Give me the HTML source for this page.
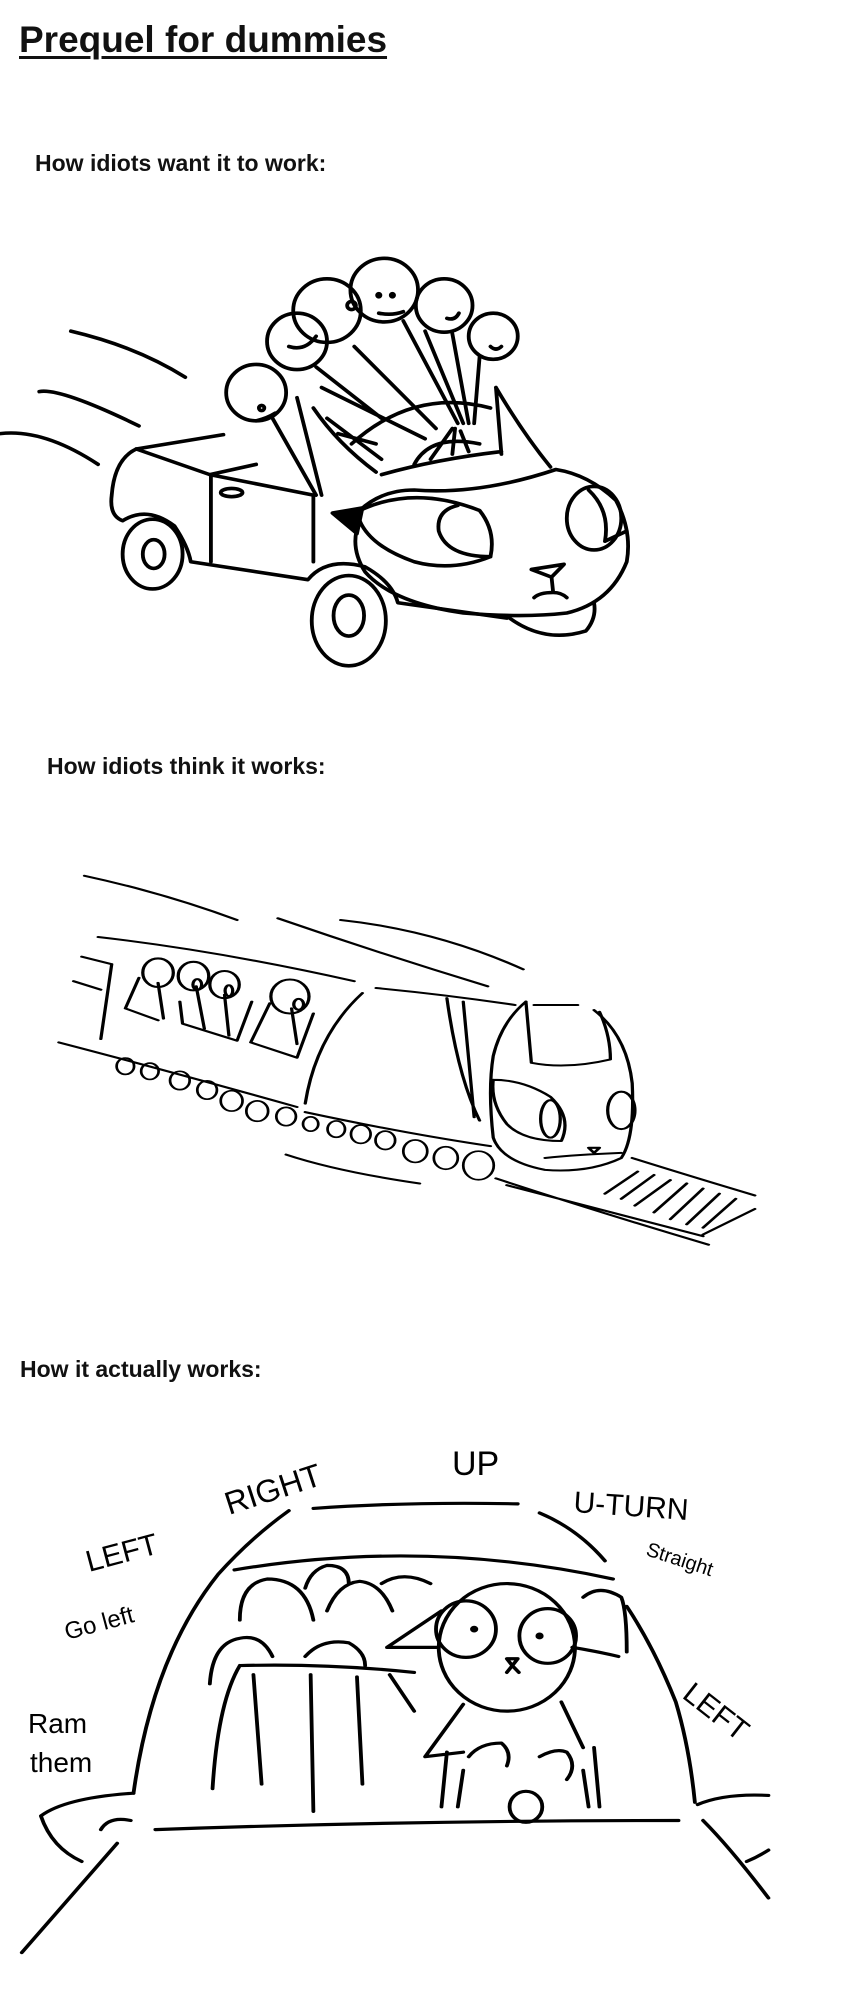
<!DOCTYPE html>
<html><head><meta charset="utf-8"><style>
html,body{margin:0;padding:0;background:#fff;width:848px;height:2000px;overflow:hidden;position:relative;font-family:"Liberation Sans",Arial,sans-serif}
.t{position:absolute;font-weight:bold;color:#111;white-space:nowrap}
svg{position:absolute;left:0;top:0}
</style></head><body>
<div class="t" style="left:19px;top:19px;font-size:37px;text-decoration:underline;text-decoration-thickness:3px;text-underline-offset:4px">Prequel for dummies</div>
<div class="t" style="left:35px;top:150px;font-size:23px">How idiots want it to work:</div>
<div class="t" style="left:47px;top:753px;font-size:23px">How idiots think it works:</div>
<div class="t" style="left:20px;top:1356px;font-size:23px">How it actually works:</div>
<svg width="848" height="2000" viewBox="0 0 848 2000" fill="none" stroke="#000" stroke-linecap="round" stroke-linejoin="round">
<!-- Panel 1 car -->
<g transform="matrix(0.545,0,0,0.5125,0,-2)" stroke-width="7">
<path d="M130,650 Q250,680 340,740 M72,768 Q110,760 255,835 M0,850 Q80,840 180,910"/>
<path d="M410,852 L250,880 Q210,900 205,970 Q200,1010 225,1020 Q270,990 320,1030 Q345,1070 350,1100 L565,1135 Q600,1090 670,1110 Q720,1140 730,1180 L930,1210"/>
<path d="M250,880 L385,930 L575,970 M387,930 L387,1100 M575,970 L575,1100 M385,930 L470,910"/>
<ellipse cx="425" cy="965" rx="20" ry="8"/>
<ellipse cx="280" cy="1085" rx="55" ry="68"/><ellipse cx="282" cy="1085" rx="20" ry="28"/>
<ellipse cx="640" cy="1215" rx="68" ry="88"/><ellipse cx="640" cy="1205" rx="28" ry="40"/>
<path d="M660,1000 Q700,960 760,960 Q880,970 1020,920 Q1080,930 1130,980 Q1160,1040 1150,1100 Q1120,1180 1040,1200 Q960,1210 850,1200 Q720,1180 670,1120 Q640,1070 660,1020"/>
<path d="M575,800 Q620,870 690,925 M910,760 L920,890 M910,760 Q960,850 1010,915 M700,930 Q800,900 920,885"/>
<path d="M660,1000 Q760,950 880,1000 Q910,1040 900,1090 Q830,1120 760,1100 Q680,1070 660,1020"/>
<path d="M900,1090 Q820,1090 805,1040 Q800,1000 840,990"/>
<ellipse cx="1090" cy="1015" rx="50" ry="62"/><path d="M1080,960 Q1120,1000 1110,1060 L1150,1040"/>
<path d="M610,1005 L665,995 L655,1045 Z" fill="#000"/>
<path d="M975,1115 L1035,1105 L1012,1130 Z M1012,1130 L1015,1160 Q990,1160 980,1170 M1015,1160 Q1030,1160 1040,1170"/>
<path d="M935,1210 Q1000,1260 1075,1235 Q1095,1210 1090,1180"/>
<path d="M645,870 Q760,760 900,800 M760,910 Q790,850 880,870 M790,900 L830,840 M830,890 L835,840 M860,885 L845,845"/>
<circle cx="470" cy="770" r="55"/><circle cx="545" cy="670" r="55"/><circle cx="600" cy="610" r="62"/><circle cx="705" cy="570" r="62"/><circle cx="815" cy="600" r="52"/><circle cx="905" cy="660" r="45"/>
<path d="M500,820 L580,970 M545,780 L590,970 M580,720 L700,820 M590,760 L780,860 M650,680 L800,840 M740,630 L840,830 M780,650 L850,830 M830,655 L860,830 M880,700 L870,830 M600,820 L700,900 M620,850 L690,870"/>
<path d="M470,825 Q490,820 505,810 M530,680 Q560,690 580,660 M695,615 Q720,620 740,612 M820,625 Q835,630 842,615 M900,680 Q910,690 920,680"/>
<circle cx="480" cy="800" r="5"/><circle cx="645" cy="600" r="8"/><circle cx="720" cy="580" r="3" fill="#000"/><circle cx="695" cy="580" r="3" fill="#000"/>
</g>
<!-- Panel 2 train -->
<g transform="matrix(0.545,0,0,0.34,0,818)" stroke-width="6">
<path d="M155,170 Q300,220 435,300 M510,295 Q700,400 895,495 M625,300 Q800,330 960,445 M525,990 Q620,1040 770,1075"/>
<path d="M180,350 Q400,390 650,480 M690,500 Q820,520 945,550 M205,430 L185,650 M150,408 L205,430 M135,480 L185,505"/>
<path d="M108,660 Q300,740 545,850 M560,865 Q750,930 900,965"/>
<path d="M665,515 Q580,640 560,840 M820,530 Q840,760 880,890 M850,540 L870,880"/>
<path d="M255,470 L230,560 L290,595 M330,540 L335,605 L435,655 L462,540 M495,545 L460,660 L545,705 L575,575"/>
<ellipse cx="290" cy="455" rx="28" ry="42"/><ellipse cx="355" cy="465" rx="28" ry="42"/><ellipse cx="412" cy="490" rx="27" ry="40"/><ellipse cx="532" cy="525" rx="35" ry="50"/>
<path d="M290,485 L300,590 M360,495 L375,620 M412,520 L420,640 M535,560 L545,665"/>
<ellipse cx="362" cy="490" rx="8" ry="16"/><ellipse cx="420" cy="508" rx="7" ry="16"/><ellipse cx="548" cy="548" rx="9" ry="16"/>
<path d="M965,540 Q920,600 905,700 Q895,800 905,940 Q920,1010 1000,1035 Q1080,1045 1140,1000 Q1165,940 1160,780 Q1150,640 1090,565"/>
<path d="M965,540 L975,720 Q1040,740 1120,710 Q1120,640 1100,570 M980,550 L1060,550"/>
<path d="M905,770 Q960,770 1010,820 Q1050,880 1030,950 Q960,950 930,900 Q900,840 905,770"/>
<ellipse cx="1010" cy="885" rx="18" ry="55"/><ellipse cx="1140" cy="860" rx="25" ry="55"/>
<path d="M1000,1000 Q1060,990 1140,985 M1080,970 L1100,970 L1090,985 Z"/>
<path d="M910,1060 Q1100,1160 1300,1255 M930,1080 Q1100,1150 1290,1230 M1160,1000 Q1280,1060 1385,1110 M1385,1150 L1290,1225"/>
<path d="M1170,1040 L1110,1105 M1200,1050 L1140,1120 M1230,1065 L1165,1140 M1260,1075 L1200,1160 M1290,1090 L1230,1180 M1320,1105 L1260,1195 M1350,1120 L1290,1205"/>
<g stroke-width="5">
<ellipse cx="230" cy="730" rx="16" ry="24"/><ellipse cx="275" cy="745" rx="16" ry="24"/><ellipse cx="330" cy="772" rx="18" ry="27"/><ellipse cx="380" cy="800" rx="18" ry="27"/><ellipse cx="425" cy="832" rx="20" ry="30"/><ellipse cx="472" cy="862" rx="20" ry="30"/><ellipse cx="525" cy="878" rx="18" ry="27"/><ellipse cx="570" cy="900" rx="14" ry="21"/><ellipse cx="617" cy="915" rx="16" ry="24"/><ellipse cx="662" cy="930" rx="18" ry="27"/><ellipse cx="707" cy="948" rx="18" ry="27"/><ellipse cx="762" cy="980" rx="22" ry="33"/><ellipse cx="818" cy="1000" rx="22" ry="33"/><ellipse cx="878" cy="1022" rx="28" ry="42"/>
</g>
</g>
<!-- Panel 3 -->
<g transform="matrix(0.545,0,0,0.4556,0,1292)" stroke-width="7">
<path d="M245,1100 Q280,800 400,620 Q460,540 530,480 M575,475 Q750,460 950,465 M990,485 Q1060,520 1110,590 M1150,690 Q1200,780 1240,900 Q1265,1000 1275,1120"/>
<path d="M430,610 Q780,540 1125,630 M285,1180 Q750,1160 1245,1160"/>
<path d="M245,1100 Q120,1110 75,1150 Q95,1220 150,1250 M185,1180 Q200,1150 240,1160 M215,1210 L40,1450 M1290,1160 Q1340,1220 1410,1330 M1280,1125 Q1330,1100 1410,1105 M1370,1250 Q1390,1240 1410,1225"/>
<path d="M440,820 Q600,815 760,835 M440,820 Q400,900 390,1090 M465,840 L480,1080 M570,840 L575,1140 M655,845 L665,1080 M715,840 L760,920"/>
<path d="M385,860 Q390,770 440,760 Q480,750 500,800 M440,720 Q440,640 490,630 Q560,630 575,720 M560,650 Q570,610 600,600 Q640,600 640,640 M600,700 Q620,640 660,635 Q700,640 720,700 M700,640 Q740,610 790,640 M560,800 Q590,760 640,770 Q670,790 670,820 M1070,670 Q1100,640 1140,670 Q1150,700 1150,790"/>
<ellipse cx="930" cy="780" rx="125" ry="140"/>
<ellipse cx="855" cy="740" rx="55" ry="62"/><ellipse cx="1005" cy="755" rx="52" ry="60"/>
<circle cx="870" cy="740" r="4" fill="#000"/><circle cx="990" cy="755" r="4" fill="#000"/>
<path d="M805,780 L710,780 L810,700 M1050,780 Q1100,790 1135,800 M930,805 L950,805 L940,820 Z M930,835 L940,820 L952,835"/>
<path d="M850,905 L780,1020 L850,1010 M1030,900 L1070,1000 M820,1010 L810,1130 M1090,1000 L1100,1130 M850,1050 L840,1130 M1070,1050 L1080,1130"/>
<path d="M860,1020 Q880,990 920,990 Q940,1010 930,1040 M990,1020 Q1020,1000 1040,1010 Q1060,1040 1040,1070"/>
<ellipse cx="965" cy="1130" rx="30" ry="34"/>
</g>
<g font-family="Liberation Sans, sans-serif" fill="#000" stroke="none">
<text x="89" y="1572" font-size="30" transform="rotate(-15 89 1572)">LEFT</text>
<text x="67" y="1640" font-size="24" transform="rotate(-15 67 1640)">Go left</text>
<text x="229" y="1515" font-size="32" transform="rotate(-18 229 1515)">RIGHT</text>
<text x="452" y="1475" font-size="34">UP</text>
<text x="573" y="1512" font-size="30" transform="rotate(4 573 1512)">U-TURN</text>
<text x="645" y="1555" font-size="20" transform="rotate(18 645 1555)">Straight</text>
<text x="681" y="1697" font-size="30" transform="rotate(38 681 1697)">LEFT</text>
<text x="28" y="1733" font-size="28">Ram</text>
<text x="30" y="1772" font-size="28">them</text>
</g>
</svg>
</body></html>
